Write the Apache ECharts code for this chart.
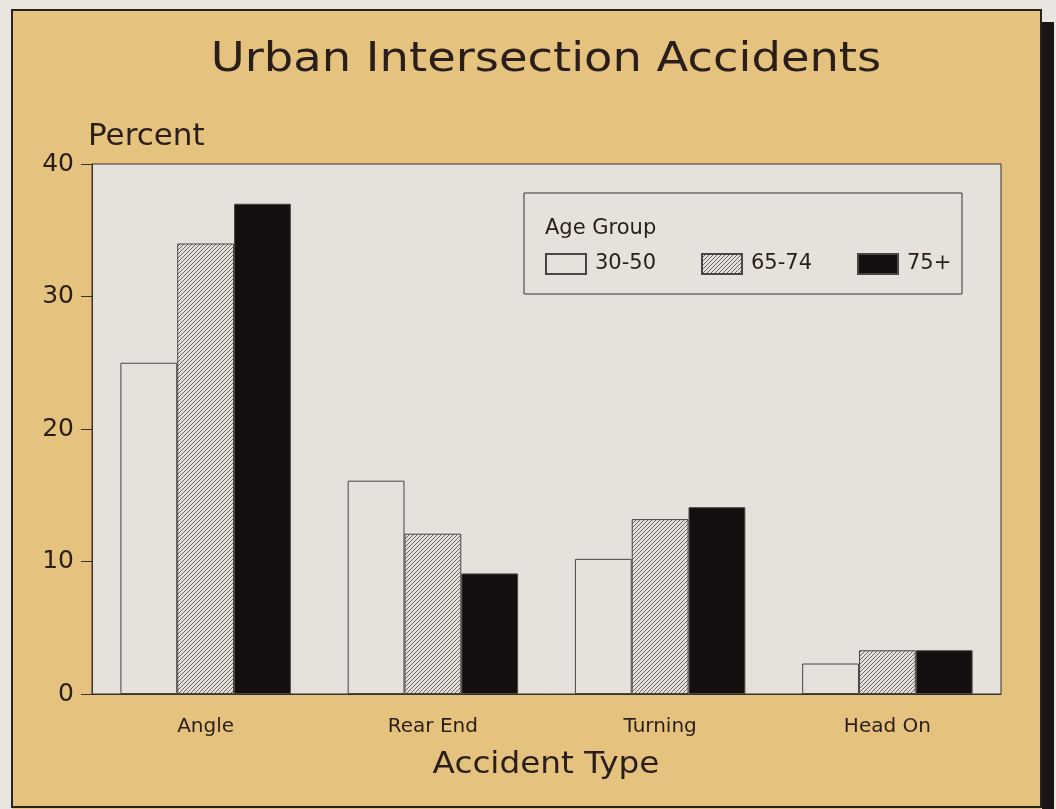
<!DOCTYPE html>
<html>
<head>
<meta charset="utf-8">
<script src="https://cdn.jsdelivr.net/npm/echarts@6/dist/echarts.min.js"></script>
<style>
  html, body { margin: 0; padding: 0; background: #e8e6df; }
  #chart { width: 1056px; height: 809px; }
</style>
</head>
<body>
<div id="chart"></div>
<script>
  // data
  var categories = ['Angle', 'Rear End', 'Turning', 'Head On']
  var ageGroups = ['30-50', '65-74', '75+']
  var young = [25, 16.1, 10.2, 2.3]
  var middle = [34, 12.1, 13.2, 3.3]
  var old = [37, 9.1, 14.1, 3.3]
  var yTicks = [0, 10, 20, 30, 40]

  // diagonal hatch for the 65-74 bars
  function hatch() {
    var p = 4
    var c = document.createElement('canvas')
    c.width = p
    c.height = p
    var ctx = c.getContext('2d')
    ctx.fillStyle = '#e2e0d8'
    ctx.fillRect(0, 0, p, p)
    ctx.strokeStyle = '#6a6866'
    ctx.lineWidth = 1
    ctx.beginPath()
    ctx.moveTo(0, p); ctx.lineTo(p, 0)
    ctx.moveTo(-1, 1); ctx.lineTo(1, -1)
    ctx.moveTo(p - 1, p + 1); ctx.lineTo(p + 1, p - 1)
    ctx.stroke()
    return c
  }

  var ink = '#2a1e1a'
  var font = 'DejaVu Sans'
  var chart = echarts.init(document.getElementById('chart'))

  var fills = ['#e4e2da', { image: hatch(), repeat: 'repeat' }, '#141010']
  var values = [young, middle, old]
  var legendLeft = [545, 701, 857]

  chart.setOption({
    backgroundColor: '#e5c37f',
    animation: false,
    grid: {
      left: 92, right: 55, top: 164, bottom: 115,
      show: true,
      backgroundColor: '#e4e2da',
      borderColor: '#3a3030',
      borderWidth: 1
    },
    legend: ageGroups.map(function (g, i) {
      return {
        data: [g],
        left: legendLeft[i],
        top: 253,
        padding: 0,
        itemWidth: 40,
        itemHeight: 20,
        icon: 'rect',
        textStyle: { fontFamily: font, fontSize: 21, color: ink, padding: [0, 0, 0, 4] }
      }
    }),
    xAxis: {
      type: 'category',
      data: categories,
      axisLine: { lineStyle: { color: '#3a3030' } },
      axisTick: { alignWithLabel: true, length: 8, lineStyle: { color: '#3a3030' } },
      axisLabel: { fontFamily: font, fontSize: 20, color: ink, margin: 23 }
    },
    yAxis: {
      type: 'value',
      min: 0,
      max: 40,
      interval: 10,
      axisLine: { show: true, lineStyle: { color: '#3a3030' } },
      axisTick: { show: true, length: 11, lineStyle: { color: '#3a3030' } },
      splitLine: { show: false },
      axisLabel: {
        fontFamily: font, fontSize: 25, color: ink, margin: 18,
        formatter: function (v) { return yTicks.indexOf(v) >= 0 ? String(v) : '' }
      }
    },
    series: ageGroups.map(function (g, i) {
      return {
        name: g,
        type: 'bar',
        data: values[i],
        barGap: '0%',
        barCategoryGap: '25%',
        itemStyle: { color: fills[i], borderColor: '#4a4444', borderWidth: 1 }
      }
    }),
    graphic: {
      elements: [
        // title and axis names, stretched a little to match the wide tracking
        { type: 'text', x: 546, y: 61, scaleX: 1.16, z: 50,
          style: { text: 'Urban Intersection Accidents', font: '40px "DejaVu Sans"', fill: ink, align: 'center', verticalAlign: 'middle' } },
        { type: 'text', x: 88, y: 137, z: 50,
          style: { text: 'Percent', font: '31px "DejaVu Sans"', fill: ink, align: 'left', verticalAlign: 'middle' } },
        { type: 'text', x: 546, y: 765, scaleX: 1.09, z: 50,
          style: { text: 'Accident Type', font: '30px "DejaVu Sans"', fill: ink, align: 'center', verticalAlign: 'middle' } },
        // legend box + heading
        { type: 'rect', shape: { x: 524, y: 193, width: 438, height: 101 }, style: { fill: 'transparent', stroke: '#3a3030', lineWidth: 1 }, z: 50 },
        { type: 'text', x: 545, y: 229, z: 50,
          style: { text: 'Age Group', font: '21px "DejaVu Sans"', fill: ink, align: 'left', verticalAlign: 'middle' } },
        // page frame and drop shadow
        { type: 'rect', shape: { x: 0, y: 0, width: 1056, height: 10 }, style: { fill: '#e8e6df' }, z: 60 },
        { type: 'rect', shape: { x: 0, y: 0, width: 12, height: 809 }, style: { fill: '#e8e6df' }, z: 60 },
        { type: 'rect', shape: { x: 1041, y: 0, width: 15, height: 809 }, style: { fill: '#e8e6df' }, z: 60 },
        { type: 'rect', shape: { x: 1042, y: 22, width: 12, height: 787 }, style: { fill: '#1a1414' }, z: 61 },
        { type: 'rect', shape: { x: 12, y: 10, width: 1029, height: 797 }, style: { fill: 'transparent', stroke: '#2a2222', lineWidth: 2 }, z: 62 }
      ]
    }
  })
</script>
</body>
</html>
